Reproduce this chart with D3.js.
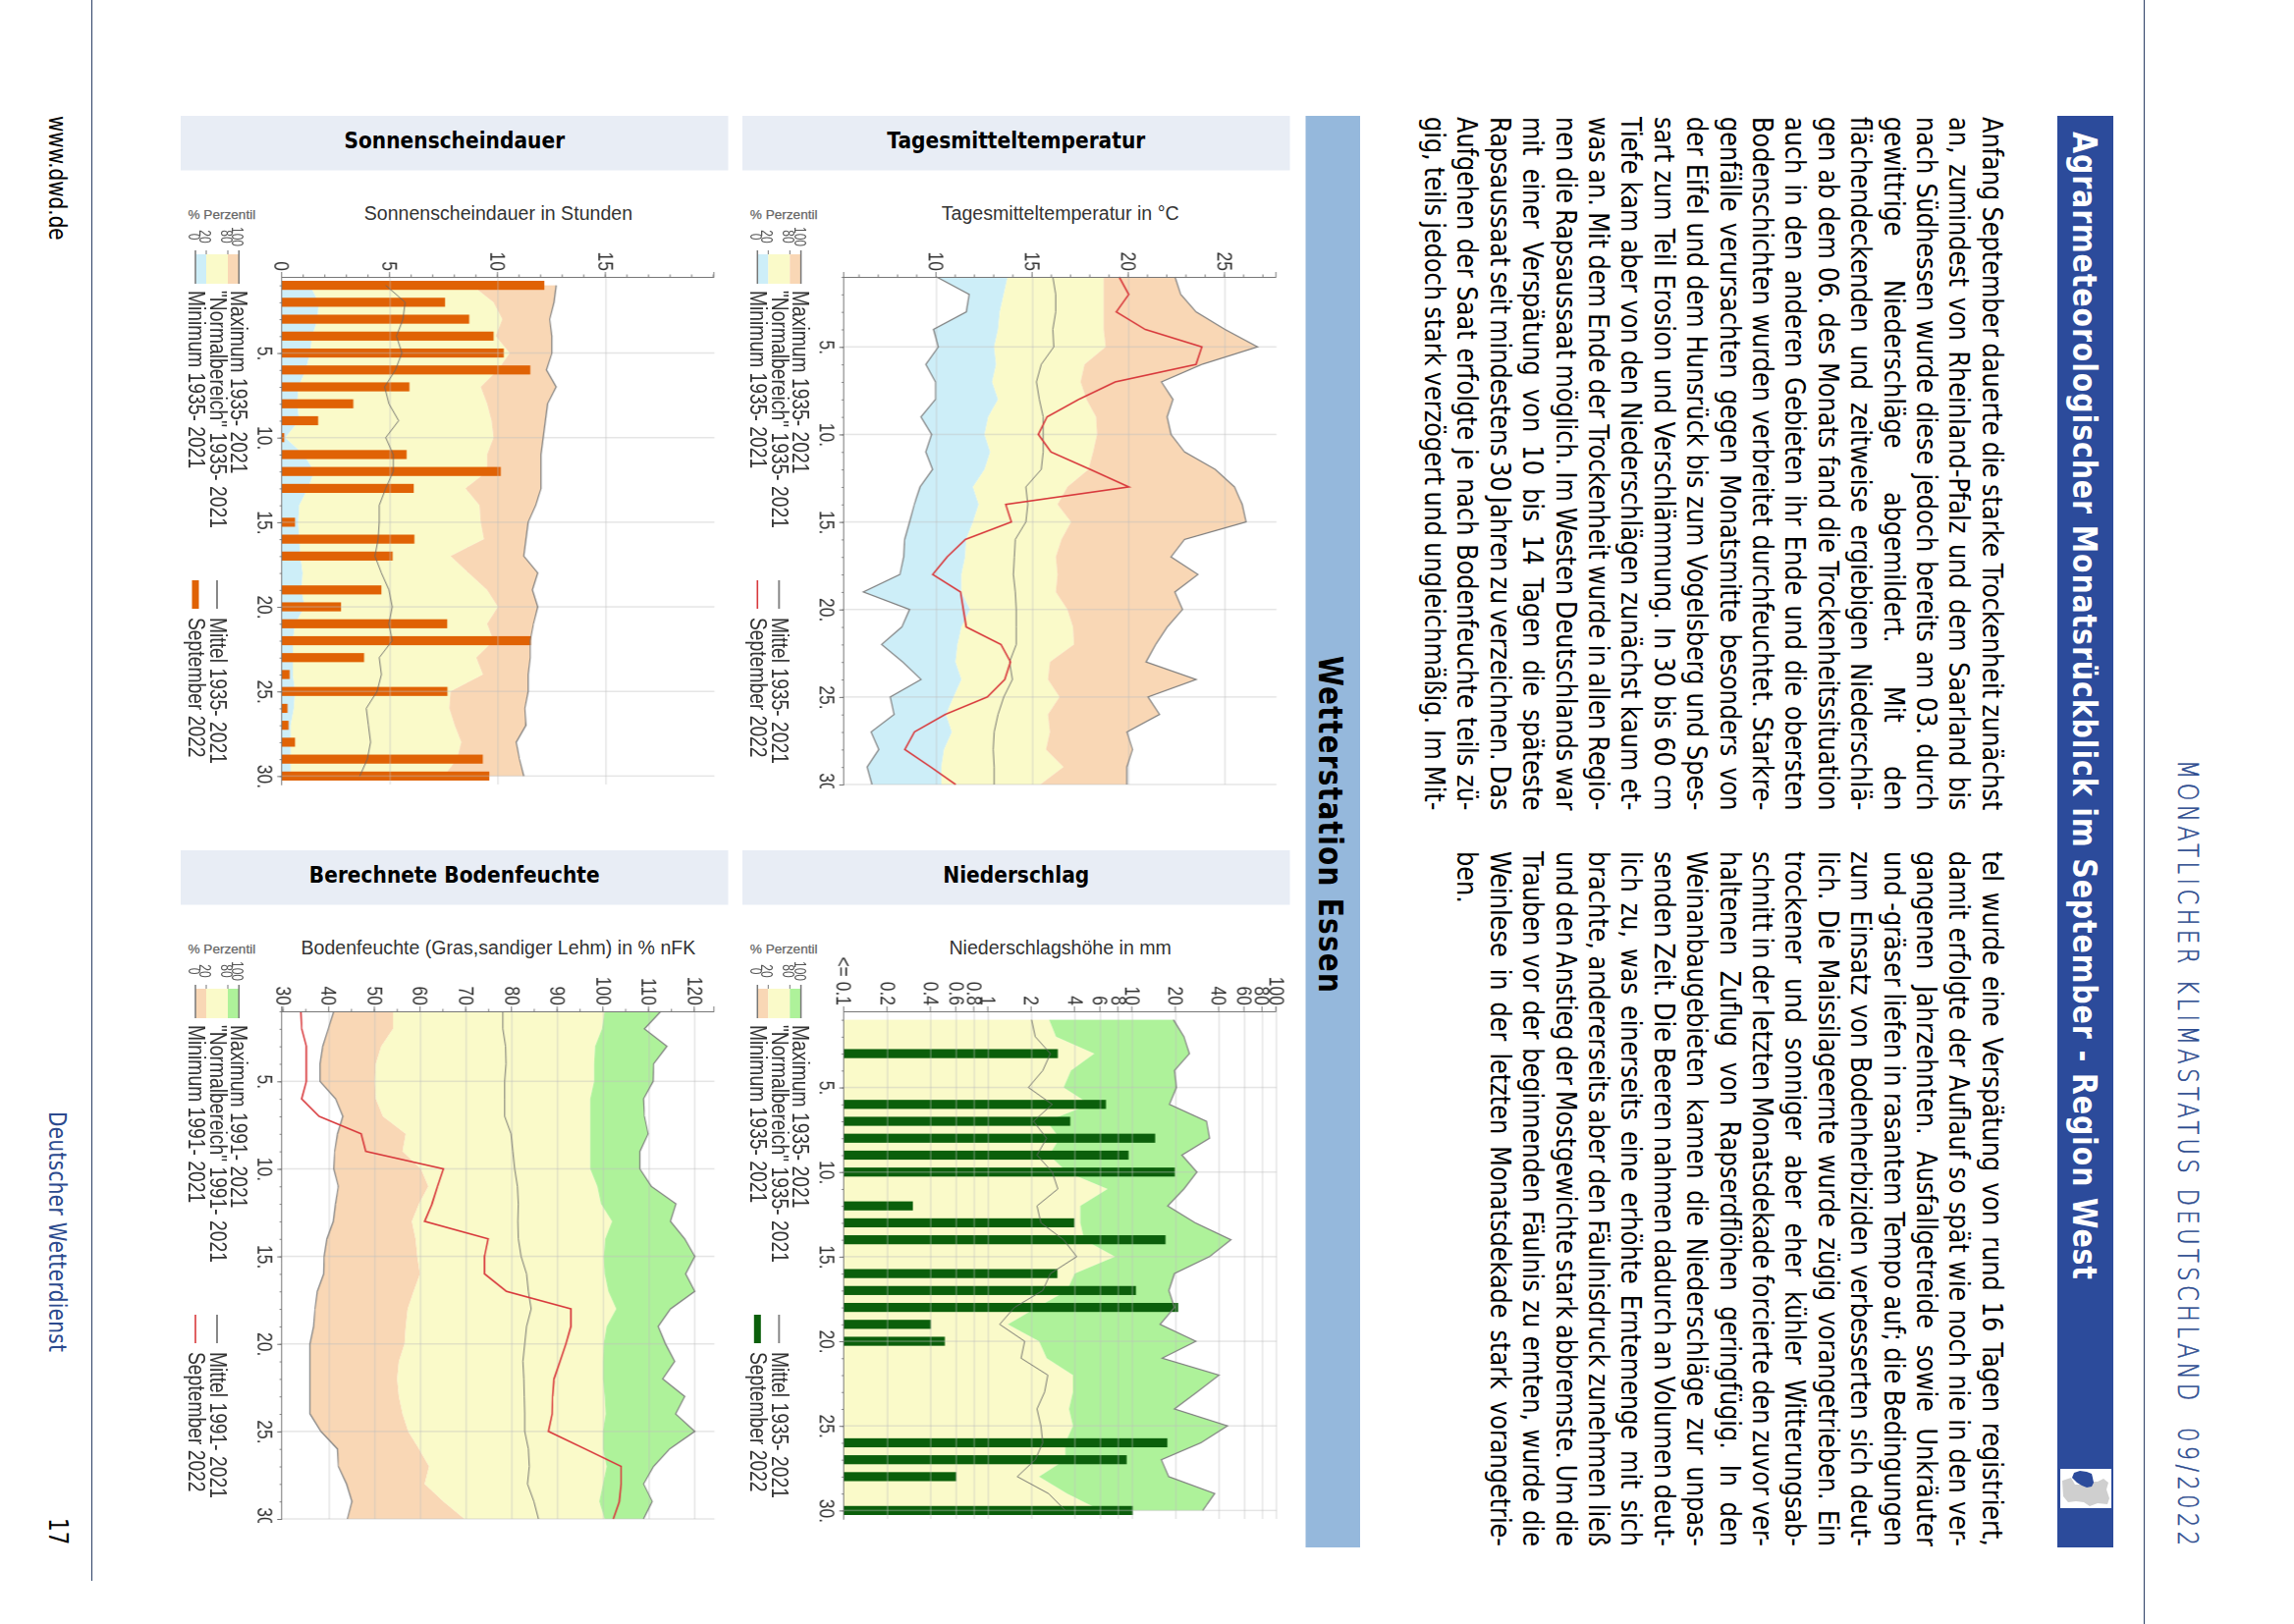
<!DOCTYPE html>
<html lang="de"><head><meta charset="utf-8"><title>Agrarmeteorologischer Monatsrückblick</title>
<script src="https://cdn.jsdelivr.net/npm/d3@7"></script>
<style>html,body{margin:0;background:#fff}svg{display:block}</style></head><body>
<script>
// ---------- data (index = day of September, 1..30) ----------
const days = [1,2,3,4,5,6,7,8,9,10,11,12,13,14,15,16,17,18,19,20,21,22,23,24,25,26,27,28,29,30];
const dayTicks = [5,10,15,20,25,30];

const sunMin  = [0,0,0,0,0,0,0,0,0,0,0,0,0,0,0,0,0,0,0,0,0,0,0,0,0,0,0,0,0,0];
const sunP20  = [1.3,1.7,1.65,1.4,1.3,1.1,0.75,0.7,0.8,0.15,1.0,1.5,1.2,0.8,0.75,0.8,0.85,0.95,0.9,1.05,0.6,0.5,0.5,0.5,0.6,0.55,0.4,0.4,0.4,0.4];
const sunP80  = [8.8,9.8,10.2,9.9,10.55,10,9.2,9.5,9.7,9.8,9.5,9.5,8.5,9.15,9.2,9.35,7.8,8.65,9.5,10,9.5,9.8,9,9.3,7.8,7.75,8,8.3,8.1,7.5];
const sunMax  = [12.7,12.6,12.4,12.5,12.5,12.25,12.7,12.3,12.2,12.1,12,12,12,11.75,11.4,11.3,11.2,11.85,11.6,11.85,11.65,11.5,11.5,11.4,11.4,11.25,11.3,10.85,11,11.2];
const sunMean = [4.8,5.7,5.6,5.3,5.55,5.25,4.75,4.95,5.4,4.8,5.15,5.15,4.8,4.5,4.5,4.45,4.3,4.6,4.95,5.1,4.95,5.1,4.5,4.6,4.4,3.9,4,4.1,3.95,3.6];
const sun2022 = [12.15,7.55,8.67,9.8,10.27,11.5,5.9,3.3,1.67,0.1,5.77,10.13,6.1,0,0.6,6.13,5.12,0,4.6,2.73,7.65,11.53,3.8,0.35,7.66,0.25,0.3,0.6,9.3,9.6];

const tempMin  = [10,11.7,11.55,9.85,10.1,9.45,9.95,9.95,9.2,9.75,9.45,9.8,9.15,8.85,8.6,8.35,8.3,8.1,6.2,8.6,8.2,7.15,8.25,9.2,7.6,7.8,6.6,7,6.4,6.65];
const tempP20  = [13.7,13.5,13.3,13.2,13,13.1,12.9,13.2,12.7,12.5,12.8,12.5,11.9,12.2,11.9,11.55,11.5,11.3,11.3,11.75,11.3,11.1,11,11.3,10.9,10.5,10.8,10.4,10.25,10.25];
const tempP80  = [18.7,18.7,18.7,18.7,18.8,17.7,17.5,17.8,18.3,18.35,18.15,17.9,16.8,16.3,17,16.5,16.2,16.3,16.2,16.8,17.1,17.15,15.9,15.8,16.4,15.8,15.9,15.7,16.6,15.4];
const tempMax  = [22.4,22.7,23.5,25,26.7,23.8,21.7,22.3,22,22.2,22.9,24.5,25.5,25.9,26.1,22.9,22.2,23.6,22.4,22.8,22,21.4,20.9,23.5,21,21.6,19.9,20.2,19.9,19.9];
const tempMean = [16.05,16.2,16.2,16.05,16.1,15.45,15.2,15.35,15.55,15.55,15.55,15.45,14.65,14.75,14.65,14.1,14.05,14,14.1,14.15,14.15,14.15,13.8,13.95,13.5,13.2,13,12.95,13,13];
const temp2022 = [19.5,20,19.35,20.85,23.8,23.5,19.3,17.4,15.75,15.3,15.95,18,20,13.6,13.9,11.5,10.55,9.8,11.25,11.4,11.55,13.35,13.85,13.55,12.65,10.45,8.85,8.35,9.7,11];

const soilMin  = [41,39.8,38.6,38,38,41.4,43,41.8,41.2,41,42,41.4,40.9,39.5,38.9,38.8,37.4,36.9,36.6,35.8,35.8,35.8,35.8,35.8,38.2,41.8,42,43.8,45,44];
const soilP20  = [54,54,51.4,50.2,50,50.2,51.8,56.8,56.1,60.1,61.7,59.7,58.1,58.9,59.3,59.9,58.5,57.2,56.8,56.5,55.3,54.9,55.3,56.1,57.3,59.7,61.9,60.9,65,69.6];
const soilP80  = [100.3,99.7,98.2,98,98,97.1,97.1,97.1,97.1,97.1,98.7,99.5,101.9,100.4,100.1,100.3,101.1,102.8,100.7,100.1,99.9,99.9,100.3,100.5,99.9,99.9,100.7,99.9,99.1,100.3];
const soilMax  = [112.6,109,113.9,111,110.9,108.8,109,109.8,108,108,110.5,115.9,114.7,117.8,120,118,120,114.7,112,113.6,115.6,113,117.8,115.8,120,114.5,111,108.8,110.7,108.8];
const soilMean = [78,78,78.6,78.7,78.4,78.4,78.4,79.8,80.2,80.6,81.2,81.4,81.3,81.4,82,83.2,83.6,84.2,83.2,82.8,82.4,82.6,82.7,82.8,82.8,83.6,83.8,83.4,84.8,85.8];
const soil2022 = [33.8,34,35,35,35,34,37.8,47,48,65,63.7,62.5,60.9,74.8,74,74,78.8,92.9,92.9,91.8,90.5,89.2,88.9,88.8,88,96,103.9,103.9,103.5,102.2];

const rainMin  = [0.1,0.1,0.1,0.1,0.1,0.1,0.1,0.1,0.1,0.1,0.1,0.1,0.1,0.1,0.1,0.1,0.1,0.1,0.1,0.1,0.1,0.1,0.1,0.1,0.1,0.1,0.1,0.1,0.1,0.1];
const rainP80  = [2.65,2.95,5.45,3.75,3.33,5.07,2.54,3.13,2.65,3.53,6.73,4.36,4.36,4.63,7.58,3.98,3.53,2.18,1.37,2.25,2.54,3.87,3.87,3.64,3.87,3.43,3.43,2.25,3.53,6.07];
const rainMax  = [19.3,22.8,24.9,19.6,20.2,18.1,32.7,34.3,22.1,28.1,22.8,17.6,27.3,48.3,34.3,19.6,17.9,19.6,15.6,27.6,16.1,40,28.1,19.6,45.8,29.9,15.9,17.9,37.3,30.8];
const rainMean = [2,2.12,2.7,2.39,1.9,2.78,2.06,2.54,2.18,2.78,3.04,2.18,2.32,3.33,4.11,2.7,2.39,1.52,1.2,1.79,1.69,2.59,2.46,2.18,2.32,2.39,2.12,1.59,2.62,3.43];
const rain2022 = [0,0,3.04,0,0,6.56,3.71,14.4,9.42,19.7,0,0.30,3.96,17,0,3.02,10.6,20.8,0.40,0.50,0,0,0,0,0,17.5,9.14,0.60,0,10.1];

const sunTicks  = [0,5,10,15];
const tempTicks = [10,15,20,25];
const soilTicks = [30,40,50,60,70,80,90,100,110,120];
const rainTicks = [0.1,0.2,0.4,0.6,0.8,1,2,4,6,8,10,20,40,60,80,100];
const rainTickLabels = ["<= 0.1","0.2","0.4","0.6","0.8","1","2","4","6","8","10","20","40","60","80","100"];
const percentiles = [0,20,80,100];

const columnOne = [
"Anfang September dauerte die starke Trockenheit zunächst",
"an, zumindest von Rheinland-Pfalz und dem Saarland bis",
"nach Südhessen wurde diese jedoch bereits am 03. durch",
"gewittrige Niederschläge abgemildert. Mit den",
"flächendeckenden und zeitweise ergiebigen Niederschlä-",
"gen ab dem 06. des Monats fand die Trockenheitssituation",
"auch in den anderen Gebieten ihr Ende und die obersten",
"Bodenschichten wurden verbreitet durchfeuchtet. Starkre-",
"genfälle verursachten gegen Monatsmitte besonders von",
"der Eifel und dem Hunsrück bis zum Vogelsberg und Spes-",
"sart zum Teil Erosion und Verschlämmung. In 30 bis 60 cm",
"Tiefe kam aber von den Niederschlägen zunächst kaum et-",
"was an. Mit dem Ende der Trockenheit wurde in allen Regio-",
"nen die Rapsaussaat möglich. Im Westen Deutschlands war",
"mit einer Verspätung von 10 bis 14 Tagen die späteste",
"Rapsaussaat seit mindestens 30 Jahren zu verzeichnen. Das",
"Aufgehen der Saat erfolgte je nach Bodenfeuchte teils zü-",
"gig, teils jedoch stark verzögert und ungleichmäßig. Im Mit-"];
const columnTwo = [
"tel wurde eine Verspätung von rund 16 Tagen registriert,",
"damit erfolgte der Auflauf so spät wie noch nie in den ver-",
"gangenen Jahrzehnten. Ausfallgetreide sowie Unkräuter",
"und -gräser liefen in rasantem Tempo auf; die Bedingungen",
"zum Einsatz von Bodenherbiziden verbesserten sich deut-",
"lich. Die Maissilageernte wurde zügig vorangetrieben. Ein",
"trockener und sonniger aber eher kühler Witterungsab-",
"schnitt in der letzten Monatsdekade forcierte den zuvor ver-",
"haltenen Zuflug von Rapserdflöhen geringfügig. In den",
"Weinanbaugebieten kamen die Niederschläge zur unpas-",
"senden Zeit. Die Beeren nahmen dadurch an Volumen deut-",
"lich zu, was einerseits eine erhöhte Erntemenge mit sich",
"brachte, andererseits aber den Fäulnisdruck zunehmen ließ",
"und den Anstieg der Mostgewichte stark abbremste. Um die",
"Trauben vor der beginnenden Fäulnis zu ernten, wurde die",
"Weinlese in der letzten Monatsdekade stark vorangetrie-",
"ben."];

// ---------- palette and layout ----------
const BLUE="#cdeef8", YEL="#fafac9", ORA="#f9d7b5", GRN="#aef29a", SUNBAR="#e06205", RAINBAR="#0b5f0b", RED="#d8393c";
const NAVY="#2c4b9b", INK="#2b4a8e", RULE="#3d4f72", BAND="#e8edf5", BAR="#95b8dc";
const STRETCH=1.2, TICKSTRETCH=1.25, LEGSTRETCH=1.2, PAGE='"DejaVu Sans"', CHART='"Liberation Sans"';

const svg=d3.select("body").append("svg").attr("width",2336).attr("height",1654).attr("viewBox","0 0 2336 1654");
const defs=svg.append("defs");
svg.append("rect").attr("width",2336).attr("height",1654).attr("fill","#fff");

// rotated page text: baseline runs down the screen, glyphs are stretched across it
function vtext(parent,x,y,str,size,o={}){
  return parent.append("text").attr("transform",`translate(${x},${y}) rotate(90) scale(1,${o.stretch||STRETCH})`)
    .attr("font-family",o.family||PAGE).attr("font-size",size).attr("font-weight",o.weight||"normal")
    .attr("fill",o.fill||"#000").attr("text-anchor",o.anchor||"start").text(str);
}
function justify(sel,width){
  const n=(sel.text().match(/ /g)||[]).length; if(!n) return;
  sel.style("word-spacing",((width-sel.node().getComputedTextLength())/n)+"px");
}

// ---------- page furniture ----------
svg.append("line").attr("x1",93.5).attr("x2",93.5).attr("y1",0).attr("y2",1610).attr("stroke",RULE).attr("stroke-width",1.2);
svg.append("line").attr("x1",2183.5).attr("x2",2183.5).attr("y1",0).attr("y2",1654).attr("stroke",RULE).attr("stroke-width",1.2);
vtext(svg,50,118,"www.dwd.de",20,{stretch:1.25});
vtext(svg,50,1132,"Deutscher Wetterdienst",20,{fill:INK,stretch:1.25}).attr("textLength",245).attr("lengthAdjust","spacing");
vtext(svg,50,1546,"17",21.5,{stretch:1.25});
vtext(svg,2218,774,"MONATLICHER KLIMASTATUS DEUTSCHLAND  09/2022",22.5,{fill:INK,weight:200,stretch:1.27})
  .style("white-space","pre").attr("stroke",INK).attr("stroke-width",0.45).attr("textLength",800).attr("lengthAdjust","spacing");

svg.append("rect").attr("x",2095).attr("y",118).attr("width",57).attr("height",1458).attr("fill",NAVY);
vtext(svg,2111,134,"Agrarmeteorologischer Monatsrückblick im September - Region West",28.5,{fill:"#fff",weight:"bold",stretch:1.2}).attr("textLength",1169).attr("lengthAdjust","spacing");
svg.append("rect").attr("x",2098).attr("y",1496).attr("width",52).attr("height",40).attr("fill","#fff");
svg.append("path").attr("fill","#cfcfcf").attr("d","M2100,1508 L2109,1505 L2113,1512 L2121,1512 L2128,1509 L2136,1509 L2142,1506 L2147,1510 L2145,1517 L2148,1526 L2146,1532 L2136,1531 L2128,1534 L2122,1530 L2114,1529 L2106,1530 L2101,1524Z");
svg.append("path").attr("fill",NAVY).attr("d","M2110,1505 L2112,1500 L2118,1498 L2125,1499 L2130,1501 L2131,1505 L2132,1510 L2130,1514 L2125,1515 L2120,1513 L2115,1510Z");

svg.append("rect").attr("x",1329.5).attr("y",118).attr("width",55.5).attr("height",1458).attr("fill",BAR);
vtext(svg,1343,668,"Wetterstation Essen",28,{weight:"bold",stretch:1.2}).attr("textLength",343).attr("lengthAdjust","spacing");

columnOne.forEach((t,i)=>{ const s=vtext(svg,2018.7-33.4*i,119,t,24,{stretch:1.2}); justify(s,706.5); });
columnTwo.forEach((t,i)=>{ const s=vtext(svg,2018.7-33.4*i,867,t,24,{stretch:1.2}); if(i<columnTwo.length-1) justify(s,708); });

// ---------- the four charts ----------
const plotW=440.2, plotH=517;
const dayWide=[0.5,30.5], dayTight=[1,30];
const charts=[
 {left:287.3,top:282,band:[184,557.5],head:"Sonnenscheindauer",title:"Sonnenscheindauer in Stunden",
  scale:d3.scaleLinear().domain([0,20.03]),ticks:sunTicks,labels:null,grid:sunTicks.slice(1),minor:d3.range(0,21),dom:dayWide,clip:false,
  bands:[[sunMin,sunP20,BLUE],[sunP20,sunP80,YEL],[sunP80,sunMax,ORA]],outline:[sunMax],mean:sunMean,bars:sun2022,barFill:SUNBAR,line:null,
  swatch:[BLUE,YEL,ORA],years:"1935- 2021"},
 {left:859.6,top:282,band:[756,557.5],head:"Tagesmitteltemperatur",title:"Tagesmitteltemperatur in °C",
  scale:d3.scaleLinear().domain([5.2,27.68]),ticks:tempTicks,labels:null,grid:tempTicks,minor:d3.range(6,28),dom:dayTight,clip:true,
  bands:[[tempMin,tempP20,BLUE],[tempP20,tempP80,YEL],[tempP80,tempMax,ORA]],outline:[tempMin,tempMax],mean:tempMean,bars:null,line:temp2022,
  swatch:[BLUE,YEL,ORA],years:"1935- 2021"},
 {left:287.3,top:1030,band:[184,557.5],head:"Berechnete Bodenfeuchte",title:"Bodenfeuchte (Gras,sandiger Lehm) in % nFK",
  scale:d3.scaleLinear().domain([29.7,124.3]),ticks:soilTicks,labels:null,grid:soilTicks.slice(1),minor:d3.range(30,125,5),dom:dayTight,clip:true,
  bands:[[soilMin,soilP20,ORA],[soilP20,soilP80,YEL],[soilP80,soilMax,GRN]],outline:[soilMin,soilMax],mean:soilMean,bars:null,line:soil2022,
  swatch:[ORA,YEL,GRN],years:"1991- 2021"},
 {left:859.6,top:1030,band:[756,557.5],head:"Niederschlag",title:"Niederschlagshöhe in mm",
  scale:d3.scaleLog().domain([0.1,100]),ticks:rainTicks,labels:rainTickLabels,grid:rainTicks.slice(1),minor:[],dom:dayWide,clip:false,
  bands:[[rainMin,rainP80,YEL],[rainP80,rainMax,GRN]],outline:[rainMax],mean:rainMean,bars:rain2022,barFill:RAINBAR,line:null,
  swatch:[ORA,YEL,GRN],years:"1935- 2021"}
];

charts.forEach((c,ci)=>{
  // header band and horizontal titles
  const bandTop=c.top-164;
  svg.append("rect").attr("x",c.band[0]).attr("y",bandTop).attr("width",c.band[1]).attr("height",55.5).attr("fill",BAND);
  svg.append("text").attr("transform",`translate(${c.band[0]+c.band[1]/2},${bandTop+33}) scale(1,1.12)`)
    .attr("text-anchor","middle").attr("font-family",PAGE).attr("font-weight","bold").attr("font-size",20.2).attr("fill","#000").text(c.head);
  svg.append("text").attr("x",c.left+plotW/2).attr("y",c.top-58).attr("text-anchor","middle")
    .attr("font-family",CHART).attr("font-size",19.6).attr("fill","#333").text(c.title);
  svg.append("text").attr("x",c.left-95.8).attr("y",c.top-59).attr("font-family",CHART)
    .attr("font-size",13.6).attr("stroke","#666").attr("stroke-width",0.25).attr("fill","#666").text("% Perzentil");

  // legend
  const lg=svg.append("g").attr("transform",`translate(${c.left-88.3},${c.top})`).style("filter","blur(0.3px)");
  const pct=d3.scaleLinear().domain(percentiles).range([0,11,33,44.3]);
  const pctStops=[[0,20],[20,80],[80,100]];
  pctStops.forEach((s,i)=>lg.append("rect").attr("x",pct(s[0])).attr("y",-23).attr("width",pct(s[1])-pct(s[0])).attr("height",30).attr("fill",c.swatch[i]));
  percentiles.forEach(p=>{
    const outer=p===0||p===100;
    lg.append("line").attr("x1",pct(p)).attr("x2",pct(p)).attr("y1",-27).attr("y2",outer?7:-23).attr("stroke","#777").attr("stroke-width",outer?1.5:1);
    vtext(lg,pct(p)-7,-41,String(p),12,{family:CHART,fill:"#555",anchor:"middle",stretch:1.3});
  });
  const lx=[235,213.7,192].map(v=>v-199);
  const legFont={family:CHART,fill:"#333",stretch:LEGSTRETCH};
  vtext(lg,lx[0],14,"Maximum "+c.years,19.3,legFont);
  vtext(lg,lx[1],14,'"Normalbereich" '+c.years,19.3,legFont);
  vtext(lg,lx[2],14,"Minimum "+c.years,19.3,legFont);
  vtext(lg,lx[1],347,"Mittel "+c.years,19.3,legFont);
  vtext(lg,lx[2],347,"September 2022",19.3,legFont);
  lg.append("line").attr("x1",22).attr("x2",22).attr("y1",309).attr("y2",338).attr("stroke","#888").attr("stroke-width",2);
  if(c.bars) lg.append("rect").attr("x",-3.5).attr("y",309).attr("width",7).attr("height",29).attr("fill",c.barFill);
  else lg.append("line").attr("x1",0).attr("x2",0).attr("y1",309).attr("y2",338).attr("stroke",RED).attr("stroke-width",1.6);

  // plot: local x = day (runs down the screen), local -y = value (runs right on the screen)
  const g=svg.append("g").attr("transform",`translate(${c.left},${c.top}) rotate(90)`).style("filter","blur(0.35px)");
  const day=d3.scaleLinear().domain(c.dom).range([0,plotH]);
  const val=c.scale.copy().range([0,-plotW]);

  c.bands.forEach(b=>{
    g.append("path").datum(days).attr("fill",b[2]).attr("d",
      d3.area().x(d=>day(d)).y0(d=>val(b[0][d-1])).y1(d=>val(b[1][d-1])));
  });
  if(c.bars){
    const barH=9.2;
    g.selectAll(".bar").data(days.filter(d=>c.bars[d-1]>0)).join("rect")
      .attr("x",d=>day(d)-barH/2).attr("width",barH)
      .attr("y",d=>val(c.bars[d-1])).attr("height",d=>val.range()[0]-val(c.bars[d-1]))
      .attr("fill",c.barFill);
  }
  // grid lies over bands and bars
  const gridCol="rgba(190,190,190,0.4)";
  g.selectAll(".gv").data(c.grid).join("line").attr("x1",0).attr("x2",plotH).attr("y1",d=>val(d)).attr("y2",d=>val(d)).attr("stroke",gridCol).attr("stroke-width",1.5);
  g.selectAll(".gd").data(dayTicks).join("line").attr("x1",d=>day(d)).attr("x2",d=>day(d)).attr("y1",0).attr("y2",-plotW).attr("stroke",gridCol).attr("stroke-width",1.5);

  const ln=a=>d3.line().x(d=>day(d)).y(d=>val(a[d-1]));
  c.outline.forEach(a=>g.append("path").datum(days).attr("fill","none").attr("stroke","#7f7f7f").attr("stroke-width",1.2).attr("d",ln(a)));
  g.append("path").datum(days).attr("fill","none").attr("stroke","#666").attr("stroke-width",0.9).attr("d",ln(c.mean));
  if(c.line) g.append("path").datum(days).attr("fill","none").attr("stroke",RED).attr("stroke-width",1.6).attr("d",ln(c.line));

  // axes
  const valAxis=d3.axisLeft(val).tickValues(c.ticks).tickSizeOuter(0).tickSize(5)
    .tickFormat((d,i)=>c.labels?c.labels[i]:String(d));
  const va=g.append("g").attr("font-family",CHART).call(valAxis);
  va.selectAll("text").attr("x",0).attr("dy","0.32em").attr("transform",`translate(-6,0) scale(1,${TICKSTRETCH})`).attr("font-size",17.5).attr("fill","#333");
  if(c.minor.length){
    g.append("g").call(d3.axisLeft(val).tickValues(c.minor).tickSize(2.5).tickSizeOuter(0).tickFormat(""));
  }
  g.append("g").call(d3.axisBottom(day).tickValues(days).tickSize(2.5).tickSizeOuter(0).tickFormat(""));
  const dayAxis=d3.axisBottom(day).tickValues(dayTicks).tickSize(5).tickSizeOuter(0).tickFormat(d=>d+".");
  const da=g.append("g").attr("font-family",CHART).call(dayAxis);
  da.selectAll("text").attr("y",0).attr("dy",0).attr("transform",`translate(0,24.8) scale(1,${TICKSTRETCH})`).attr("font-size",17.5).attr("fill","#333");
  if(c.clip){
    const id="clip"+ci;
    defs.append("clipPath").attr("id",id).append("rect").attr("x",-20).attr("y",-20).attr("width",plotH+24).attr("height",80);
    da.attr("clip-path",`url(#${id})`);
  }
  g.selectAll(".domain,.tick line").attr("stroke","#777");
});
</script>
</body></html>
